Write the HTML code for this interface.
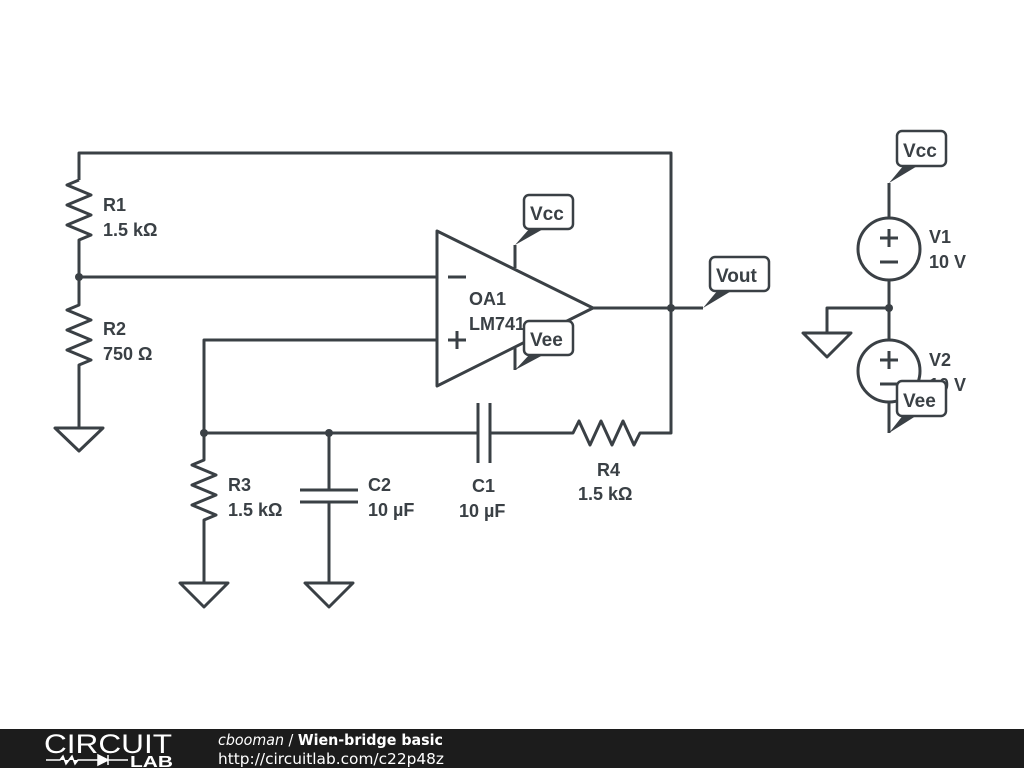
<!DOCTYPE html>
<html><head><meta charset="utf-8"><style>
body{margin:0;width:1024px;height:768px;overflow:hidden;background:#fff;font-family:"Liberation Sans","DejaVu Sans",sans-serif}
svg{position:absolute;left:0;top:0}
</style></head><body>
<svg width="1024" height="768" viewBox="0 0 1024 768">
<g fill="none" stroke="#3a4045" stroke-width="3" stroke-linejoin="round">
<path d="M79,180 V153 H671 V433 H643"/>
<path d="M79,180 l-12,5 l24,10 l-24,10 l24,10 l-24,10 l24,10 l-12,5 V305 l-12,5 l24,10 l-24,10 l24,10 l-24,10 l24,10 l-12,5 V428"/>
<path d="M55,428 H103 L79,451 Z"/>
<path d="M79,277 H437"/>
<path d="M437,231 L593,308 L437,386 Z"/>
<path d="M437,340 H204 V460 l-12,5 l24,10 l-24,10 l24,10 l-24,10 l24,10 l-12,5 V583"/>
<path d="M180,583 H228 L204,607 Z"/>
<path d="M204,433 H478 M478,403 V463 M490,403 V463 M490,433 H573 l6,-12 l11,24 l11,-24 l11,24 l11,-24 l11,24 l6,-12 H645"/>
<path d="M329,433 V490 M300,490 H358 M300,502 H358 M329,502 V583"/>
<path d="M305,583 H353 L329,607 Z"/>
<path d="M593,308 H703"/>
<path d="M515,268 V245 M515,348 V370"/>
<path d="M448,277 H466 M448,340 H466 M457,331 V349"/>
<path d="M889,183 V218 M889,280 V340 M889,402 V433 M889,308 H827 V333"/>
<path d="M803,333 H851 L827,357 Z"/>
<circle cx="889" cy="249" r="31"/><circle cx="889" cy="371" r="31"/>
<path d="M880,238 H898 M889,229 V247 M880,262 H898 M880,360 H898 M889,351 V369 M880,384 H898"/>
</g>
<g fill="#3a4045">
<circle cx="79" cy="277" r="4"/><circle cx="204" cy="433" r="4"/><circle cx="329" cy="433" r="4"/><circle cx="671" cy="308" r="4"/><circle cx="889" cy="308" r="4"/>
<path d="M515,245 L530,228 L545,228 Z"/>
<path d="M515,370 L530,354 L545,354 Z"/>
<path d="M703,308 L718,290 L733,290 Z"/>
<path d="M889,183 L904,165 L919,165 Z"/>
<path d="M889,433 L904,414 L919,414 Z"/>
</g>
<g fill="#fff" stroke="#3a4045" stroke-width="2.5">
<rect x="524" y="195" width="49" height="34" rx="5"/>
<rect x="710" y="257" width="59" height="34" rx="5"/>
<rect x="897" y="131" width="49" height="35" rx="5"/>
</g>
<g font-weight="bold" font-size="18" fill="#3a4045">
<text x="103" y="211">R1</text><text x="103" y="236">1.5 kΩ</text>
<text x="103" y="335">R2</text><text x="103" y="360">750 Ω</text>
<text x="469" y="305">OA1</text><text x="469" y="330">LM741</text>
<text x="228" y="491">R3</text><text x="228" y="516">1.5 kΩ</text>
<text x="368" y="491">C2</text><text x="368" y="516">10 µF</text>
<text x="472" y="492">C1</text><text x="459" y="517">10 µF</text>
<text x="597" y="476">R4</text><text x="578" y="500">1.5 kΩ</text>
<text x="929" y="243">V1</text><text x="929" y="268">10 V</text>
<text x="929" y="366">V2</text><text x="929" y="391">10 V</text>
</g>
<g fill="#fff" stroke="#3a4045" stroke-width="2.5">
<rect x="524" y="321" width="49" height="34" rx="5"/>
<rect x="897" y="381" width="49" height="35" rx="5"/>
</g>
<g font-weight="bold" font-size="19" fill="#3a4045">
<text x="530" y="220">Vcc</text><text x="530" y="346">Vee</text><text x="716" y="282">Vout</text>
<text x="903" y="157">Vcc</text><text x="903" y="407">Vee</text>
</g>
<rect x="0" y="729" width="1024" height="39" fill="#1c1c1c"/>
<text x="44" y="753" font-size="27" fill="#fff" textLength="128" lengthAdjust="spacingAndGlyphs">CIRCUIT</text>
<path d="M46,760 H60 l3,-4 l3,8 l3,-4 l3,-4 l3,8 l3,-4 H98 M98,755 V765 L108,760 Z M108,755 V765 M108,760 H128" stroke="#fff" stroke-width="1.5" fill="#fff"/>
<text x="130" y="767" font-size="16" font-weight="bold" fill="#fff" textLength="43" lengthAdjust="spacingAndGlyphs">LAB</text>
<text x="218" y="745" font-size="15" fill="#fff" font-family="DejaVu Sans, sans-serif" textLength="225" lengthAdjust="spacingAndGlyphs"><tspan font-style="italic">cbooman</tspan> / <tspan font-weight="bold">Wien-bridge basic</tspan></text>
<text x="218" y="764" font-size="15" fill="#fff" font-family="DejaVu Sans, sans-serif" textLength="226" lengthAdjust="spacingAndGlyphs">http://circuitlab.com/c22p48z</text>
</svg>
</body></html>
